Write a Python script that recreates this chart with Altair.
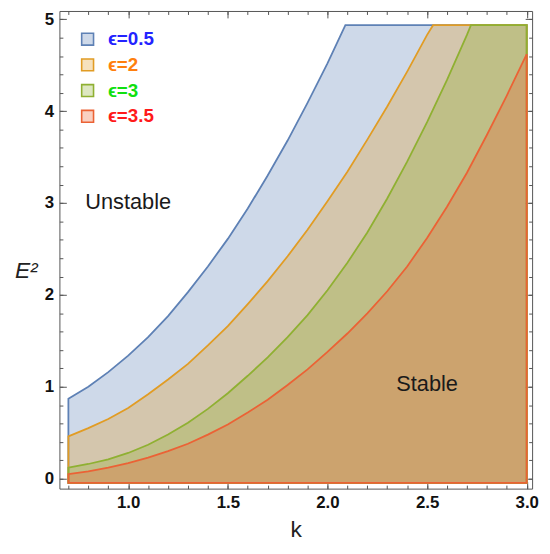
import altair as alt
import pandas as pd

# ---- data ----
labels = ["ϵ=0.5", "ϵ=2", "ϵ=3", "ϵ=3.5"]
line_colors = ["#5E81B5", "#E19C24", "#8FB032", "#EB6235"]
fill_colors = ["rgba(94,129,181,0.3)", "rgba(225,156,36,0.3)",
               "rgba(143,176,50,0.3)", "rgba(235,98,53,0.3)"]
label_colors = ["#2323ff", "#ff7f0e", "#10e010", "#ff1a1a"]

k_blue = [0.7, 0.8, 0.9, 1.0, 1.1, 1.2, 1.3, 1.4, 1.5, 1.6, 1.7, 1.8, 1.9, 2.0, 2.09, 3.0]
e_blue = [0.87, 1.00, 1.16, 1.34, 1.54, 1.77, 2.03, 2.31, 2.61, 2.94, 3.30, 3.68, 4.09, 4.52, 4.935, 4.935]

k_orange = [0.7, 0.8, 0.9, 1.0, 1.1, 1.2, 1.3, 1.4, 1.5, 1.6, 1.7, 1.8, 1.9, 2.0, 2.1, 2.2, 2.3, 2.4, 2.5, 2.53, 3.0]
e_orange = [0.46, 0.55, 0.65, 0.77, 0.92, 1.08, 1.25, 1.45, 1.66, 1.90, 2.15, 2.42, 2.71, 3.02, 3.34, 3.69, 4.05, 4.43, 4.83, 4.935, 4.935]

k_green = [0.7, 0.8, 0.9, 1.0, 1.1, 1.2, 1.3, 1.4, 1.5, 1.6, 1.7, 1.8, 1.9, 2.0, 2.1, 2.2, 2.3, 2.4, 2.5, 2.6, 2.7, 2.72, 3.0]
e_green = [0.12, 0.16, 0.21, 0.28, 0.37, 0.48, 0.61, 0.76, 0.93, 1.12, 1.32, 1.54, 1.78, 2.05, 2.35, 2.68, 3.05, 3.45, 3.88, 4.34, 4.83, 4.935, 4.935]

k_red = [0.7, 0.8, 0.9, 1.0, 1.1, 1.2, 1.3, 1.4, 1.5, 1.6, 1.7, 1.8, 1.9, 2.0, 2.1, 2.2, 2.3, 2.4, 2.5, 2.6, 2.7, 2.8, 2.9, 3.0]
e_red = [0.05, 0.08, 0.12, 0.17, 0.23, 0.30, 0.38, 0.48, 0.59, 0.72, 0.86, 1.02, 1.19, 1.38, 1.58, 1.80, 2.04, 2.31, 2.62, 2.96, 3.33, 3.74, 4.17, 4.62]

region_bottom = -0.046

x_major = [1.0, 1.5, 2.0, 2.5, 3.0]
x_minor = [round(0.7 + 0.1 * i, 1) for i in range(24)]
y_major = [0, 1, 2, 3, 4, 5]
y_minor = [round(0.2 * i, 1) for i in range(26)]

ann_k = [1.0, 2.5]
ann_e = [3.01, 1.03]
ann_text = ["Unstable", "Stable"]

# ---- tables ----
series = [(labels[0], k_blue, e_blue), (labels[1], k_orange, e_orange),
          (labels[2], k_green, e_green), (labels[3], k_red, e_red)]
df = pd.concat([pd.DataFrame({"s": s, "k": ks, "e": es, "b": region_bottom})
                for s, ks, es in series], ignore_index=True)
ann = pd.DataFrame({"k": ann_k, "e": ann_e, "t": ann_text})

FONT = "Liberation Sans"
FRAME = "#555555"

xs = alt.Scale(domain=[0.655, 3.027], nice=False, zero=False)
ys = alt.Scale(domain=[-0.108, 5.09], nice=False, zero=False)

expr = ("datum.value == '%s' ? '%s' : datum.value == '%s' ? '%s' : "
        "datum.value == '%s' ? '%s' : '%s'") % (
    labels[0], label_colors[0], labels[1], label_colors[1],
    labels[2], label_colors[2], label_colors[3])

leg = alt.Legend(orient="none", legendX=19, legendY=19, direction="vertical",
                 symbolType="square", symbolSize=144, symbolStrokeWidth=1.6,
                 labelFont=FONT, labelFontSize=19, labelFontWeight="bold",
                 labelColor=alt.ExprRef(expr), rowPadding=6, labelOffset=11,
                 padding=0, title=None)
fscale = alt.Scale(domain=labels, range=fill_colors)
sscale = alt.Scale(domain=labels, range=line_colors)


def tick_axis(orient, values, size, show_labels, title=None, **kw):
    args = dict(orient=orient, values=values, tickSize=size, offset=-size,
                domain=False, grid=False, labels=show_labels, ticks=True,
                tickColor=FRAME, tickWidth=1)
    if show_labels:
        args.update(labelFont=FONT, labelFontSize=17, labelFontWeight="bold",
                    labelColor="#111111", labelPadding=6,
                    format=".1f" if orient == "bottom" else "d")
    args.update(title=title)
    args.update(kw)
    return alt.Axis(**args)


layers = []
for i, (s, ks, es) in enumerate(series):
    if i == 0:
        xa = tick_axis("bottom", x_major, 7, True, "k", titleFont=FONT, titleFontSize=23,
                       titleFontWeight="normal", titleColor="#222222", titlePadding=8)
        ya = tick_axis("left", y_major, 7, True, "E²", titleFont=FONT, titleFontSize=23,
                       titleFontWeight="normal", titleFontStyle="italic", titleColor="#222222",
                       titleAngle=0, titleAlign="center", titleBaseline="middle",
                       titleX=-41, titleY=263)
    else:
        xa = None
        ya = None
    layer = alt.Chart(df).transform_filter(alt.datum.s == s).mark_area(
        strokeWidth=1.8, interpolate="linear", clip=True
    ).encode(
        x=alt.X("k:Q", scale=xs, axis=xa),
        y=alt.Y("e:Q", scale=ys, axis=ya),
        y2=alt.Y2("b:Q"),
        fill=alt.Fill("s:N", scale=fscale, legend=leg, sort=labels),
        stroke=alt.Stroke("s:N", scale=sscale, legend=leg, sort=labels),
    )
    layers.append(layer)

dummy_specs = [
    (tick_axis("bottom", x_minor, 3.5, False), tick_axis("left", y_minor, 3.5, False)),
    (tick_axis("top", x_major, 7, False), tick_axis("right", y_major, 7, False)),
    (tick_axis("top", x_minor, 3.5, False), tick_axis("right", y_minor, 3.5, False)),
]
red_only = df[df["s"] == labels[3]]
for xa, ya in dummy_specs:
    layers.append(alt.Chart(red_only).mark_point(opacity=0).encode(
        x=alt.X("k:Q", scale=xs, axis=xa),
        y=alt.Y("e:Q", scale=ys, axis=ya),
    ))

layers.append(alt.Chart(ann).mark_text(font=FONT, fontSize=22, color="#1a1a1a",
                                       align="center", baseline="middle").encode(
    x=alt.X("k:Q", scale=xs, axis=None),
    y=alt.Y("e:Q", scale=ys, axis=None),
    text="t:N",
))

chart = alt.layer(*layers).resolve_scale(
    x="shared", y="shared"
).resolve_axis(
    x="independent", y="independent"
).properties(
    width=478, height=483,
    padding={"left": 52, "top": 0, "right": 10, "bottom": 55},
    autosize=alt.AutoSizeParams(type="none"),
    background="white",
).configure_view(stroke=FRAME, strokeWidth=1)

chart.save("out.html", embed_options={"renderer": "svg", "actions": False})
